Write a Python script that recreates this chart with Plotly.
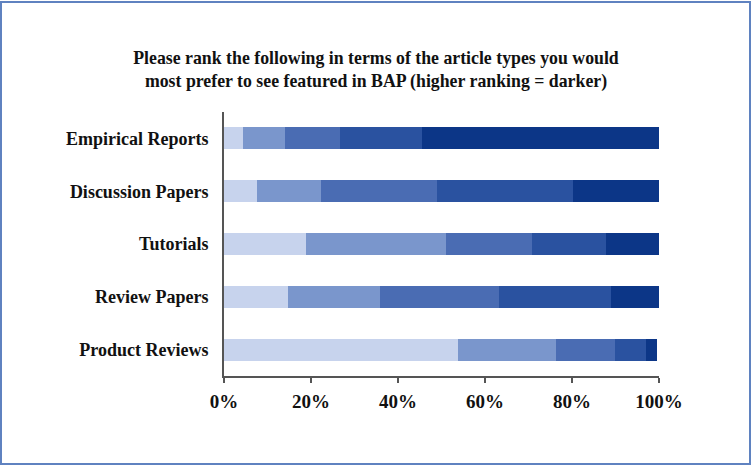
import plotly.graph_objects as go

categories = ["Empirical Reports", "Discussion Papers", "Tutorials", "Review Papers", "Product Reviews"]
rank_names = ["Rank 5", "Rank 4", "Rank 3", "Rank 2", "Rank 1"]
rank5 = [4.4, 7.7, 18.9, 14.8, 53.7]
rank4 = [9.7, 14.5, 32.1, 21.1, 22.6]
rank3 = [12.6, 26.7, 19.7, 27.4, 13.6]
rank2 = [18.8, 31.4, 17.1, 25.6, 7.0]
rank1 = [54.5, 19.7, 12.2, 11.1, 2.6]
series = [rank5, rank4, rank3, rank2, rank1]
colors = ["#c7d3ed", "#7a96cc", "#4a6cb3", "#2a52a0", "#0c3687"]
tick_vals = [0, 20, 40, 60, 80, 100]
tick_text = ["0%", "20%", "40%", "60%", "80%", "100%"]

font_family = "Liberation Serif"

fig = go.Figure()
for name, vals, col in zip(rank_names, series, colors):
    fig.add_trace(go.Bar(
        y=categories, x=vals, name=name, orientation="h",
        marker=dict(color=col, line=dict(width=0)),
    ))

W, H = 752, 466
l, r, t, b = 224, 93, 112, 90
pw, ph = W - l - r, H - t - b

def px_x(x):
    return (x - l) / pw

def px_y(y):
    return (H - b - y) / ph

fig.update_layout(
    width=W, height=H,
    barmode="stack", bargap=0.58,
    showlegend=False,
    paper_bgcolor="white", plot_bgcolor="white",
    margin=dict(l=l, r=r, t=t, b=b, autoexpand=False),
    title=dict(
        text="Please rank the following in terms of the article types you would<br>most prefer to see featured in BAP (higher ranking = darker)",
        x=0.5, xanchor="center", y=1 - 64 / H, yanchor="middle",
        font=dict(family=font_family, size=17.8, color="#111111", weight="bold"),
    ),
    xaxis=dict(
        range=[0, 100], tickvals=tick_vals, ticktext=tick_text,
        showgrid=False, zeroline=False,
        showline=True, linecolor="#555555", linewidth=1.5,
        ticks="outside", ticklen=5, tickcolor="#555555", tickwidth=1.5,
        tickfont=dict(family=font_family, size=19, color="#111111", weight="bold"),
        ticklabelstandoff=2,
        fixedrange=True,
    ),
    yaxis=dict(
        categoryorder="array", categoryarray=categories, autorange="reversed",
        showgrid=False, zeroline=False,
        showline=True, linecolor="#555555", linewidth=2,
        ticks="",
        tickfont=dict(family=font_family, size=18, color="#111111", weight="bold"),
        ticklabelstandoff=10,
        fixedrange=True,
    ),
    shapes=[dict(
        type="rect", xref="paper", yref="paper",
        x0=px_x(1), x1=px_x(750), y0=px_y(464), y1=px_y(2),
        line=dict(color="#5f82c0", width=2), fillcolor="rgba(0,0,0,0)",
        layer="below",
    )],
)

fig.write_html(
    "out.html",
    config={"displayModeBar": False},
    post_script="document.body.style.margin='0';document.body.style.overflow='hidden';",
)
